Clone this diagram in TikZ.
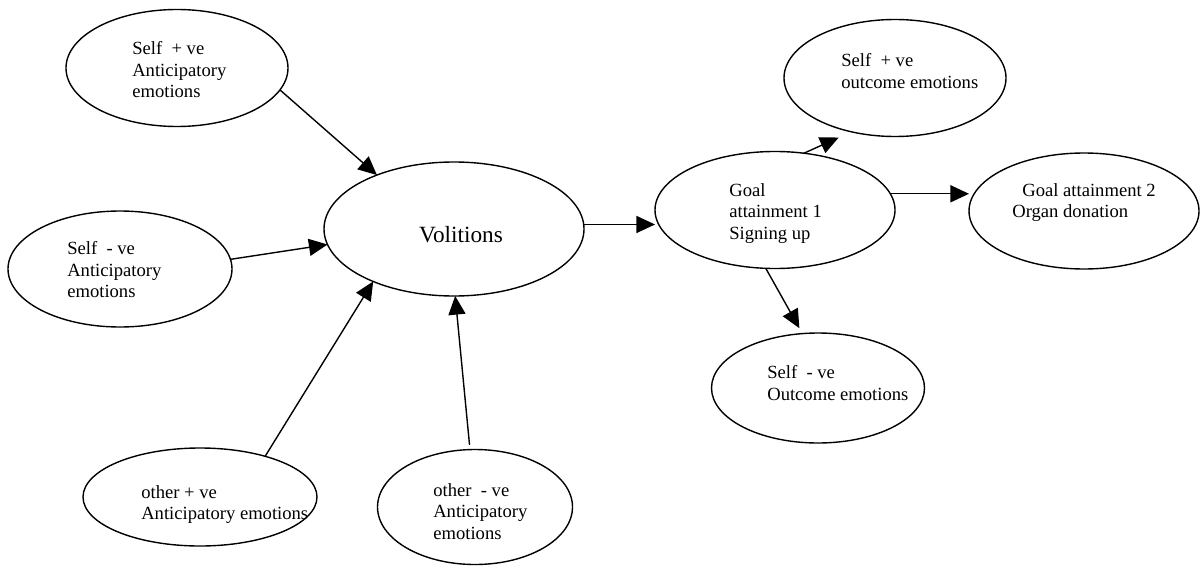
\documentclass[tikz,border=0pt]{standalone}
\usepackage{fontspec}
\setmainfont{Liberation Serif}
\usetikzlibrary{shapes.geometric,arrows.meta}
\begin{document}
\begin{tikzpicture}[x=0.645pt,y=-0.645pt,
		emo/.style 2 args={ellipse,draw,line width=0.9pt,inner sep=0pt,outer sep=0pt,
			minimum width=#1*0.645pt,minimum height=#2*0.645pt},
		txt/.style={anchor=north west,align=left,inner sep=0pt,font=\fontsize{12}{14}\selectfont},
		arr/.style={line width=0.9pt,-{Triangle[length=12pt,width=11pt]}}]
	\useasboundingbox(0,0)rectangle(1200,567);
	% ellipses
	\node[emo={222}{117}](spa)at(177,68){};
	\node[emo={224}{116}](sna)at(120,269){};
	\node[emo={260}{134}](vol)at(454,229){};
	\node[emo={234}{98}](opa)at(200,497){};
	\node[emo={195}{115}](ona)at(475,507){};
	\node[emo={240}{117}](g1)at(775,210){};
	\node[emo={222}{117}](spo)at(895,78){};
	\node[emo={230}{116}](g2)at(1084,211){};
	\node[emo={213}{110}](sno)at(818,388){};
	% texts
	\node[txt](spatxt)at(132,41){Self\ \ + ve\\Anticipatory\\emotions};
	\node[txt](snatxt)at(67,241){Self\ \ - ve\\Anticipatory\\emotions};
	\node[font=\fontsize{15}{18}\selectfont](voltxt)at(461,235){Volitions};
	\node[txt](opatxt)at(141,485){other + ve\\Anticipatory emotions};
	\node[txt](onatxt)at(433,483){other\ \ - ve\\Anticipatory\\emotions};
	\node[txt](g1txt)at(729,183){Goal\\attainment 1\\Signing up};
	\node[txt](spotxt)at(841,53){Self\ \ + ve\\outcome emotions};
	\node[txt](g2txt)at(1012,183){\hspace*{6.5pt}Goal attainment 2\\Organ donation};
	\node[txt](snotxt)at(767,365){Self\ \ - ve\\Outcome emotions};
	% arrows
	\draw[arr](spa.-12)--(vol.145);
	\draw[arr](sna.5)--(vol.187);
	\draw[arr](opa.32)--(vol.213);
	\draw[arr,shorten <=3pt](ona.95)--(vol.-89);
	\draw[arr](vol.2)--(vol.2 -| g1.west);
	\draw[arr,shorten >=9pt](g1.63)--(spo.231);
	\draw[arr](g1.8)--(g1.8 -| g2.west);
	\draw[arr,shorten >=4pt](g1.261)--(sno.106);
\end{tikzpicture}
\end{document}
